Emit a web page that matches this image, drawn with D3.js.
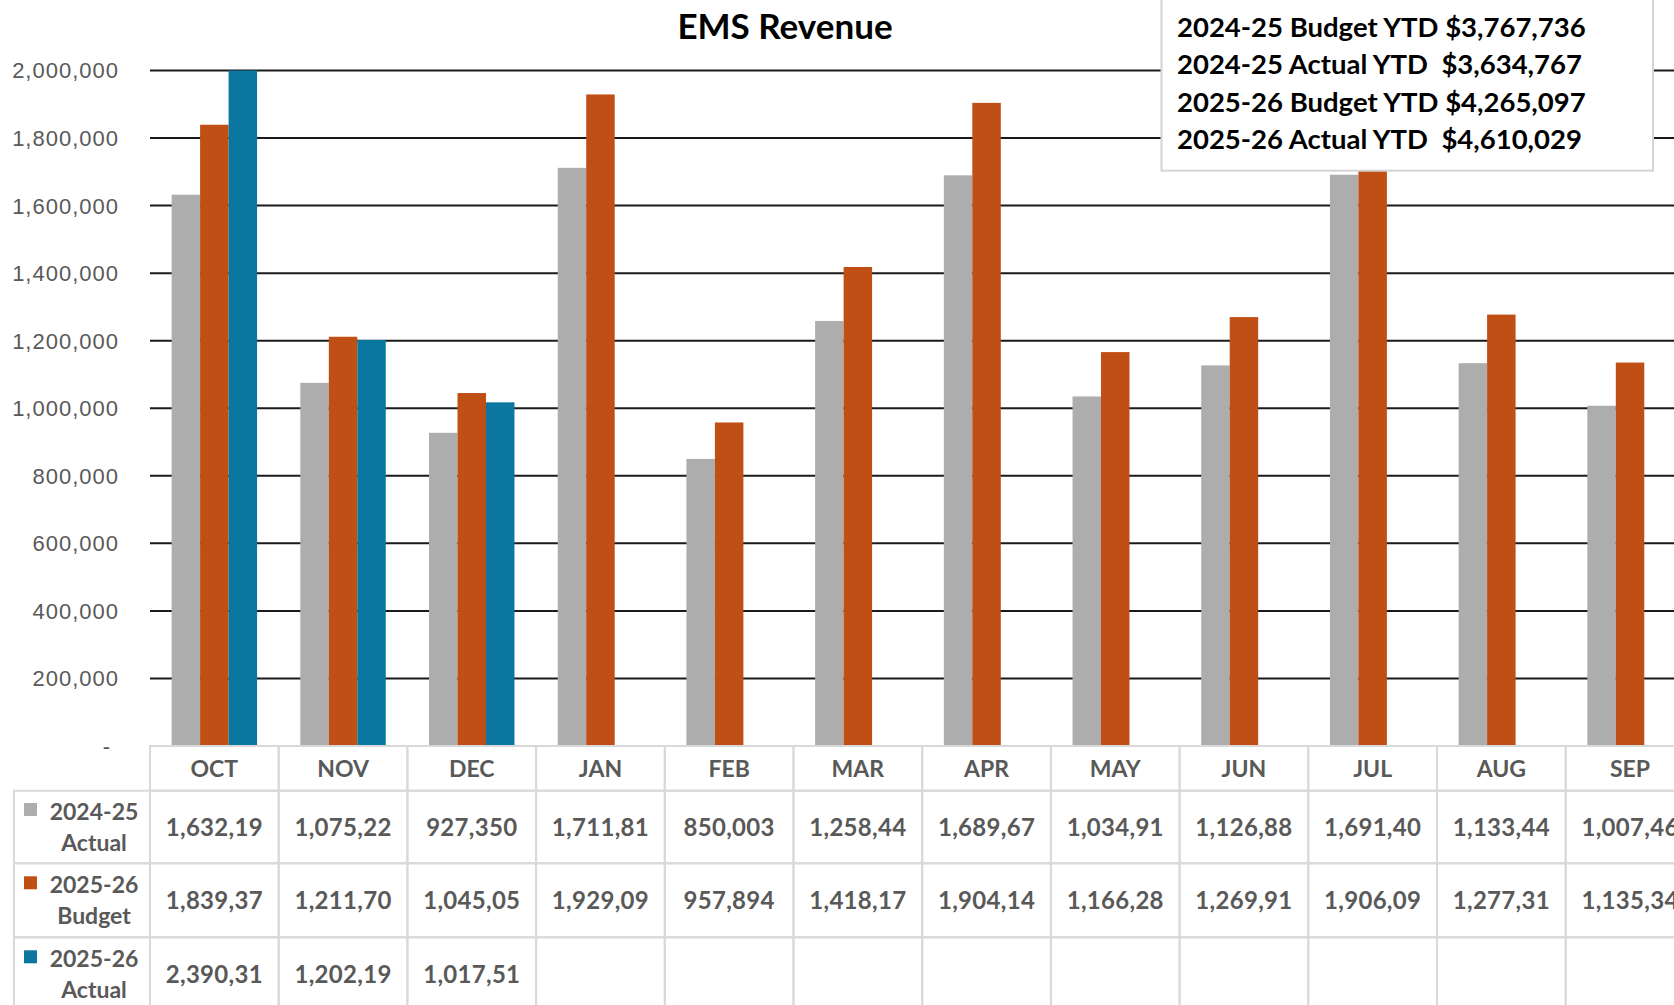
<!DOCTYPE html>
<meta charset="utf-8">
<style>
    body { margin: 0; overflow: hidden; background: #fff; }
    .ylab { font-family: "Liberation Sans", Arial, sans-serif; font-size: 22px; fill: #595959; letter-spacing: 1px; }
    .tbl { font-family: Lato, sans-serif; font-weight: bold; font-size: 23px; fill: #595959; }
    .val { font-size: 24px; letter-spacing: 0.3px; }
    .ytd { font-family: Lato, sans-serif; font-weight: bold; font-size: 27.5px; fill: #000; white-space: pre; }
</style>
<body>
<svg id="chart" width="1674" height="1005"></svg>
</body>
<script src="https://d3js.org/d3.v7.min.js"></script>
<script>

    var months = ["OCT", "NOV", "DEC", "JAN", "FEB", "MAR", "APR", "MAY", "JUN", "JUL", "AUG", "SEP"];
    var seriesTop = ["2024-25", "2025-26", "2025-26"];
    var seriesBottom = ["Actual", "Budget", "Actual"];
    var seriesColors = ["#adadad", "#c04f15", "#0b76a0"];

    var actual2425 = [1632190, 1075220, 927350, 1711810, 850003, 1258440, 1689670, 1034910, 1126880, 1691400, 1133440, 1007460];
    var budget2526 = [1839370, 1211700, 1045050, 1929090, 957894, 1418170, 1904140, 1166280, 1269910, 1906090, 1277310, 1135340];
    var actual2526 = [2390310, 1202190, 1017510];

    var ytdLines = [
        "2024-25 Budget YTD $3,767,736",
        "2024-25 Actual YTD  $3,634,767",
        "2025-26 Budget YTD $4,265,097",
        "2025-26 Actual YTD  $4,610,029"
    ];

    var series = [actual2425, budget2526, actual2526];

    var svg = d3.select("#chart");

    var plotLeft = 150, plotRight = 1694.4, plotTop = 70.5, plotBottom = 746;

    var x = d3.scaleBand()
        .domain(months)
        .range([plotLeft, plotRight])
        .paddingInner(0.336)
        .paddingOuter(0.168);
    var step = x.step();

    var xs = d3.scaleBand()
        .domain(d3.range(series.length))
        .range([0, x.bandwidth()]);

    var y = d3.scaleLinear()
        .domain([0, 2000000])
        .range([plotBottom, plotTop]);

    var fmt = d3.format(",");

    // gridlines
    svg.append("g")
        .selectAll("line")
        .data(y.ticks(10).filter(function (d) { return d > 0; }))
        .enter().append("line")
        .attr("x1", plotLeft).attr("x2", 1674)
        .attr("y1", function (d) { return y(d); })
        .attr("y2", function (d) { return y(d); })
        .attr("stroke", "#1a1a1a")
        .attr("stroke-width", 2);

    // y labels
    svg.append("g")
        .selectAll("text")
        .data(y.ticks(10))
        .enter().append("text")
        .attr("class", "ylab")
        .attr("x", function (d) { return d === 0 ? 111 : 119; })
        .attr("y", function (d) { return y(d); })
        .attr("dy", "0.36em")
        .attr("text-anchor", "end")
        .text(function (d) { return d === 0 ? "-" : fmt(d); });

    // bars
    svg.append("clipPath").attr("id", "plotclip")
        .append("rect")
        .attr("x", plotLeft).attr("y", plotTop)
        .attr("width", plotRight - plotLeft).attr("height", plotBottom - plotTop);

    var bars = svg.append("g").attr("clip-path", "url(#plotclip)");
    series.forEach(function (vals, si) {
        bars.selectAll(".s" + si)
            .data(vals)
            .enter().append("rect")
            .attr("class", "s" + si)
            .attr("x", function (d, i) { return x(months[i]) + xs(si); })
            .attr("width", xs.bandwidth())
            .attr("y", function (d) { return y(d); })
            .attr("height", function (d) { return plotBottom - y(d); })
            .attr("fill", seriesColors[si]);
    });

    // data table
    var rowTops = [790.7, 863.3, 937.3];
    var rowH = [72.6, 74, 74];
    var headTop = 746;
    var tableLeft = 14;
    var border = "#d9d9d9";
    var tbl = svg.append("g");

    // header cells
    months.forEach(function (m, i) {
        var cx = plotLeft + i * step;
        tbl.append("rect")
            .attr("x", cx).attr("y", headTop)
            .attr("width", step).attr("height", rowTops[0] - headTop)
            .attr("fill", "none").attr("stroke", border).attr("stroke-width", 2);
        tbl.append("text")
            .attr("class", "tbl")
            .attr("x", cx + step / 2).attr("y", (headTop + rowTops[0]) / 2)
            .attr("dy", "0.36em").attr("text-anchor", "middle")
            .text(m);
    });

    series.forEach(function (vals, si) {
        var top = rowTops[si], h = rowH[si], mid = top + h / 2;
        tbl.append("rect")
            .attr("x", tableLeft).attr("y", top)
            .attr("width", plotLeft - tableLeft).attr("height", h)
            .attr("fill", "none").attr("stroke", border).attr("stroke-width", 2);
        tbl.append("rect")
            .attr("x", 24).attr("y", mid - 24)
            .attr("width", 13).attr("height", 13)
            .attr("fill", seriesColors[si]);
        tbl.append("text").attr("class", "tbl")
            .attr("x", 94).attr("y", mid - 15.5).attr("dy", "0.36em")
            .attr("text-anchor", "middle").text(seriesTop[si]);
        tbl.append("text").attr("class", "tbl")
            .attr("x", 94).attr("y", mid + 15.5).attr("dy", "0.36em")
            .attr("text-anchor", "middle").text(seriesBottom[si]);

        months.forEach(function (m, i) {
            var cx = plotLeft + i * step;
            tbl.append("rect")
                .attr("x", cx).attr("y", top)
                .attr("width", step).attr("height", h)
                .attr("fill", "none").attr("stroke", border).attr("stroke-width", 2);
            if (vals[i] !== undefined) {
                tbl.append("text").attr("class", "tbl val")
                    .attr("x", cx + step / 2).attr("y", mid).attr("dy", "0.36em")
                    .attr("text-anchor", "middle")
                    .text(fmt(vals[i]).slice(0, 8));
            }
        });
    });

    // title
    svg.append("text")
        .attr("x", 785).attr("y", 26).attr("dy", "0.36em")
        .attr("text-anchor", "middle")
        .style("font-family", "Lato, sans-serif")
        .style("font-weight", "bold")
        .style("font-size", "35px")
        .text("EMS Revenue");

    // YTD box
    svg.append("rect")
        .attr("x", 1161.5).attr("y", -2)
        .attr("width", 1653 - 1161.5).attr("height", 172.7)
        .attr("fill", "#fff").attr("stroke", "#d4d4d4").attr("stroke-width", 2);

    svg.append("g")
        .selectAll("text")
        .data(ytdLines)
        .enter().append("text")
        .attr("class", "ytd")
        .attr("x", 1177)
        .attr("y", function (d, i) { return 26.7 + i * 37.6; })
        .attr("dy", "0.36em")
        .text(function (d) { return d; });

</script>
